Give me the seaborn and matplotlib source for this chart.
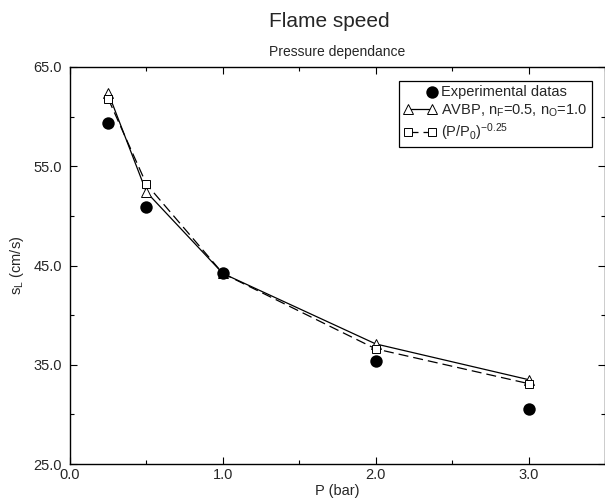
import matplotlib
matplotlib.use("Agg")
import matplotlib.pyplot as plt
from matplotlib.ticker import MultipleLocator, FormatStrFormatter
from matplotlib.legend_handler import HandlerPathCollection
import seaborn as sns

pressure = [0.25, 0.5, 1.0, 2.0, 3.0]
experimental = [59.4, 50.9, 44.2, 35.4, 30.5]
avbp = [62.4, 52.4, 44.2, 37.1, 33.5]
power_law = [61.8, 53.2, 44.2, 36.6, 33.1]


class RightMarker(HandlerPathCollection):
    # put the single circle at the right end of the handle, like the original
    def get_xdata(self, legend, xdescent, ydescent, width, height, fontsize):
        return [-xdescent + width * 0.85], [-xdescent + width * 0.85]


sns.set_theme(style="ticks")
plt.rcParams["font.family"] = ["Liberation Sans", "DejaVu Sans"]
plt.rcParams["mathtext.fontset"] = "custom"
plt.rcParams["mathtext.rm"] = "Liberation Sans"
plt.rcParams["mathtext.it"] = "Liberation Sans:italic"

fig = plt.figure(figsize=(6.05, 5.03), dpi=100)
ax = fig.add_axes([0.1157, 0.0775, 0.8843, 0.7893])

sns.scatterplot(x=pressure, y=experimental, ax=ax, color="black", s=80,
                marker="o", edgecolor="black", linewidth=0,
                label="Experimental datas", zorder=3)
sns.lineplot(x=pressure, y=avbp, ax=ax, color="black", lw=0.9,
             marker="^", markersize=7, markerfacecolor="white",
             markeredgecolor="black", markeredgewidth=0.7,
             label=r"AVBP, n$_\mathregular{F}$=0.5, n$_\mathregular{O}$=1.0")
sns.lineplot(x=pressure, y=power_law, ax=ax, color="black", lw=0.9,
             marker="s", markersize=6,
             markerfacecolor="white", markeredgecolor="black",
             markeredgewidth=0.7,
             label=r"(P/P$_\mathregular{0}$)$^\mathregular{-0.25}$")
ax.lines[-1].set_linestyle((0, (8, 4)))

ax.set_xlim(0, 3.5)
ax.set_ylim(25, 65)
ax.xaxis.set_major_locator(MultipleLocator(1.0))
ax.xaxis.set_minor_locator(MultipleLocator(0.5))
ax.yaxis.set_major_locator(MultipleLocator(10.0, offset=5.0))
ax.yaxis.set_minor_locator(MultipleLocator(5.0))
ax.xaxis.set_major_formatter(FormatStrFormatter("%.1f"))
ax.yaxis.set_major_formatter(FormatStrFormatter("%.1f"))
ax.tick_params(which="both", direction="in", top=True, right=True,
               labelsize=10.5, color="black", width=0.8)
ax.tick_params(which="major", length=5, pad=3)
ax.tick_params(which="minor", length=3)
ax.tick_params(axis="y", which="major", pad=6)
for sp in ax.spines.values():
    sp.set_color("black")
    sp.set_linewidth(1.0)

ax.set_xlabel("P (bar)", fontsize=10.5, labelpad=1)
ax.set_ylabel(r"s$_\mathregular{L}$ (cm/s)", fontsize=10.5, labelpad=5)

fig.text(0.545, 0.958, "Flame speed", ha="center", va="center", fontsize=15)
ax.set_title("Pressure dependance", fontsize=10, pad=8)

sc = ax.collections[0]
leg = ax.legend(loc="upper right", bbox_to_anchor=(0.975, 0.965),
                scatterpoints=1, numpoints=2, handlelength=2.3,
                handletextpad=0.3, fontsize=10.5, fancybox=False,
                framealpha=1, edgecolor="black", borderpad=0.3,
                labelspacing=0.2, borderaxespad=0,
                handler_map={sc: RightMarker()})
leg.get_frame().set_linewidth(0.9)

fig.savefig("out.png", dpi=100)
